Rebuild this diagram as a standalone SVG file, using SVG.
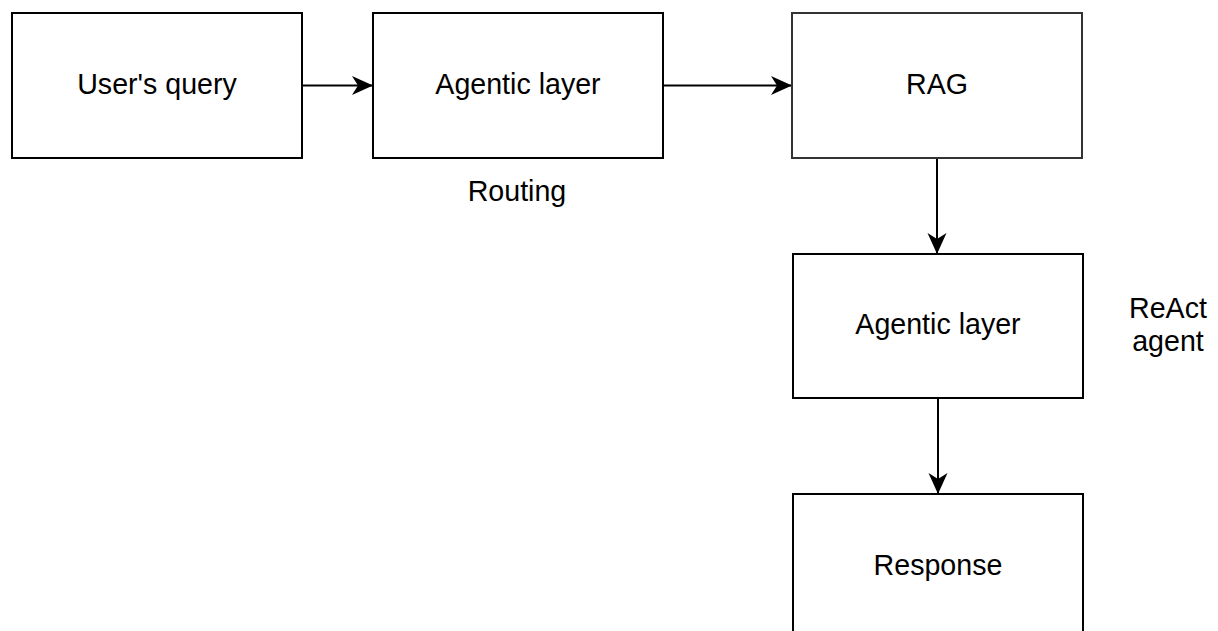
<svg xmlns="http://www.w3.org/2000/svg" width="1218" height="631" viewBox="0 0 1218 631">
<style>
.box{fill:#fff;stroke:#000;stroke-width:2}
.lbl{font-family:"Liberation Sans",Arial,sans-serif;font-size:28.6px;fill:#000;text-anchor:middle}
.edge{stroke:#000;stroke-width:2;fill:none}
</style>
<defs>
<marker id="arr" markerUnits="userSpaceOnUse" markerWidth="24" markerHeight="22" refX="21" refY="10" orient="auto" viewBox="0 0 24 20">
<path d="M0,0.5 L21,10 L0,19.5 L6,10 Z" fill="#000"/>
</marker>
</defs>
<rect width="1218" height="631" fill="#fff"/>
<g id="connectors">
<line class="edge" x1="302" y1="85.5" x2="373" y2="85.5" marker-end="url(#arr)"/>
<line class="edge" x1="663" y1="85.5" x2="792" y2="85.5" marker-end="url(#arr)"/>
<line class="edge" x1="937" y1="158" x2="937" y2="254" marker-end="url(#arr)"/>
<line class="edge" x1="938" y1="398" x2="938" y2="494" marker-end="url(#arr)"/>
</g>
<g id="n-query">
<rect class="box" x="12" y="13" width="290" height="145"/>
<text class="lbl" x="157" y="93.5">User's query</text>
</g>
<g id="n-agentic1">
<rect class="box" x="373" y="13" width="290" height="145"/>
<text class="lbl" x="518" y="93.5">Agentic layer</text>
</g>
<g id="n-routing">
<text class="lbl" x="517" y="201">Routing</text>
</g>
<g id="n-rag">
<rect class="box" x="792" y="13" width="290" height="145" style="stroke:#333"/>
<text class="lbl" x="937" y="93.5">RAG</text>
</g>
<g id="n-agentic2">
<rect class="box" x="793" y="254" width="290" height="144"/>
<text class="lbl" x="938" y="334">Agentic layer</text>
</g>
<g id="n-react">
<text class="lbl" x="1168" y="318">ReAct</text>
<text class="lbl" x="1168" y="351">agent</text>
</g>
<g id="n-response">
<rect class="box" x="793" y="494" width="290" height="150"/>
<text class="lbl" x="938" y="575">Response</text>
</g>
</svg>
